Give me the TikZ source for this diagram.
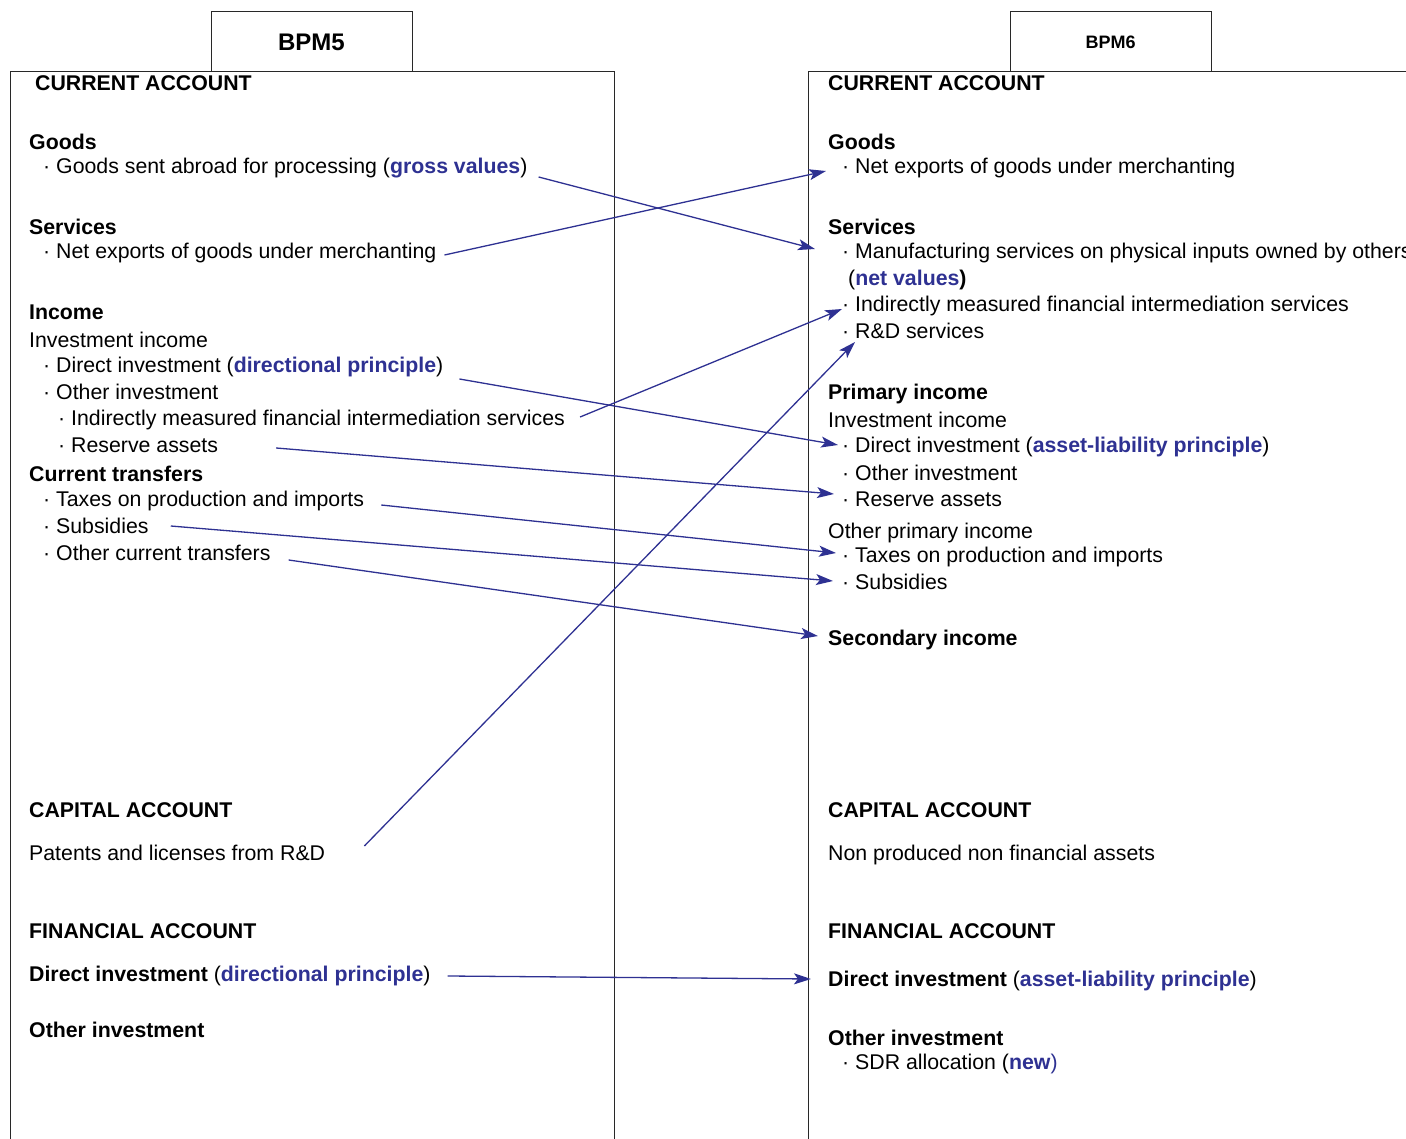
\documentclass[tikz,border=0pt]{standalone}
\usepackage{fontspec}
\setmainfont{Liberation Sans}
\usepackage{xcolor}
\usetikzlibrary{arrows.meta}
\definecolor{bpmblue}{RGB}{46,49,146}
\definecolor{framegray}{RGB}{40,40,40}
\newcommand{\bpmnote}[1]{\textcolor{bpmblue}{\textbf{#1}}}

\begin{document}
\begin{tikzpicture}[x=1pt,y=-1pt,
    every node/.style={inner sep=0pt,anchor=base west,font=\fontsize{21.3}{25}\selectfont},
    head/.style={font=\fontsize{21.3}{25}\selectfont\bfseries},
    frame/.style={draw=framegray,line width=1pt},
    tab/.style={frame,fill=white,anchor=center,minimum width=201pt,minimum height=60pt},
    link/.style={draw=bpmblue,line width=1.3pt,-{Stealth[length=17pt,width=11pt,inset=4pt]}}]
        \useasboundingbox (0,0) rectangle (1406,1139);
        \clip (0,0) rectangle (1406,1139);
        % BPM5 column
        \draw[frame] (10,1150) -- (10,72) -- (614,72) -- (614,1150);
        \node[tab,font=\fontsize{24}{28}\selectfont\bfseries] (bpm5) at (311.5,42) {BPM5};
        % BPM6 column
        \draw[frame] (808,1150) -- (808,72) -- (1420,72);
        \node[tab,font=\fontsize{18}{22}\selectfont\bfseries] (bpm6) at (1110.5,42) {BPM6};

        % BPM5 current account
        \node[head] (caL) at (35,91) {CURRENT ACCOUNT};
        \node[head] (goodsL) at (29,150) {Goods};
        \node (gsaL) at (43,174) {· Goods sent abroad for processing (\bpmnote{gross values})};
        \node[head] (servL) at (29,235) {Services};
        \node (nemL) at (43,259) {· Net exports of goods under merchanting};
        \node[head] (incL) at (29,320) {Income};
        \node (iiL) at (29,348) {Investment income};
        \node (diL) at (43,373) {· Direct investment (\bpmnote{directional principle})};
        \node (oiL) at (43,400) {· Other investment};
        \node (imfisL) at (58,426) {· Indirectly measured financial intermediation services};
        \node (raL) at (58,453) {· Reserve assets};
        \node[head] (ctL) at (29,482) {Current transfers};
        \node (taxL) at (43,506) {· Taxes on production and imports};
        \node (subL) at (43,533) {· Subsidies};
        \node (octL) at (43,560) {· Other current transfers};
        % BPM5 capital and financial account
        \node[head] (kaL) at (29,817) {CAPITAL ACCOUNT};
        \node (patL) at (29,860) {Patents and licenses from R\&D};
        \node[head] (faL) at (29,938) {FINANCIAL ACCOUNT};
        \node (difaL) at (29,981) {\textbf{Direct investment} (\bpmnote{directional principle})};
        \node[head] (oifaL) at (29,1037) {Other investment};

        % BPM6 current account
        \node[head] (caR) at (828,91) {CURRENT ACCOUNT};
        \node[head] (goodsR) at (828,150) {Goods};
        \node (nemR) at (842,174) {· Net exports of goods under merchanting};
        \node[head] (servR) at (828,235) {Services};
        \node (mfgR) at (842,259) {· Manufacturing services on physical inputs owned by others};
        \node (netR) at (848,286) {(\bpmnote{net values}\textbf{)}};
        \node (imfisR) at (842,312) {· Indirectly measured financial intermediation services};
        \node (rdR) at (842,339) {· R\&D services};
        \node[head] (piR) at (828,400) {Primary income};
        \node (iiR) at (828,428) {Investment income};
        \node (diR) at (842,453) {· Direct investment (\bpmnote{asset-liability principle})};
        \node (oiR) at (842,480) {· Other investment};
        \node (raR) at (842,506) {· Reserve assets};
        \node (opiR) at (828,538) {Other primary income};
        \node (taxR) at (842,562) {· Taxes on production and imports};
        \node (subR) at (842,589) {· Subsidies};
        \node[head] (secR) at (828,645) {Secondary income};
        % BPM6 capital and financial account
        \node[head] (kaR) at (828,817) {CAPITAL ACCOUNT};
        \node (nnaR) at (828,860) {Non produced non financial assets};
        \node[head] (faR) at (828,938) {FINANCIAL ACCOUNT};
        \node (difaR) at (828,986) {\textbf{Direct investment} (\bpmnote{asset-liability principle})};
        \node[head] (oifaR) at (828,1045) {Other investment};
        \node (sdrR) at (842,1069) {· SDR allocation (\textcolor{bpmblue}{\textbf{new})}};

        % reclassifications
        \draw[link] ([shift={(11,3)}]gsaL.base east) -- ([shift={(-27,-10)}]mfgR.base west);
        \draw[link] ([shift={(8,-4)}]nemL.base east) -- ([shift={(-16,-3)}]nemR.base west);
        \draw[link] ([shift={(16,6)}]diL.base east) -- ([shift={(-4,-8)}]diR.base west);
        \draw[link] ([shift={(15,-9)}]imfisL.base east) -- ([shift={(0,-3)}]imfisR.base west);
        \draw[link] ([shift={(58,-5)}]raL.base east) -- ([shift={(-8,-12)}]raR.base west);
        \draw[link] ([shift={(17,-1)}]taxL.base east) -- ([shift={(-6,-9)}]taxR.base west);
        \draw[link] ([shift={(22,-7)}]subL.base east) -- ([shift={(-9,-8)}]subR.base west);
        \draw[link] ([shift={(18,0)}]octL.base east) -- ([shift={(-10,-9)}]secR.base west);
        \draw[link] ([shift={(39,-14)}]patL.base east) -- ([shift={(13,3)}]rdR.base west);
        \draw[link] ([shift={(17,-5)}]difaL.base east) -- ([shift={(-17,-7)}]difaR.base west);
    \end{tikzpicture}
\end{document}
